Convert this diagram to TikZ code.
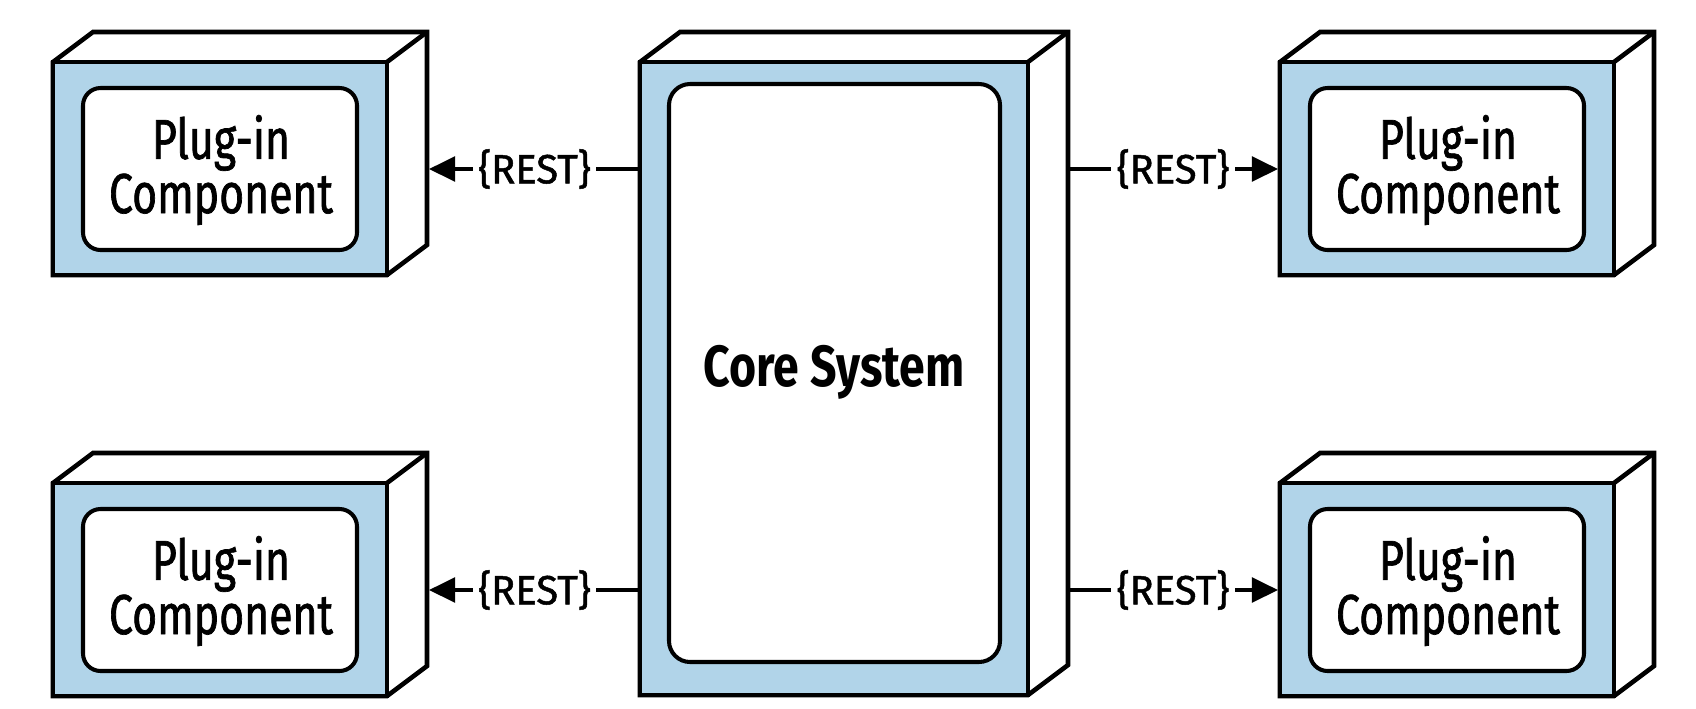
\documentclass[tikz,border=0pt]{standalone}
\usepackage{fontspec}
\setmainfont[FakeStretch=0.8]{Fira Sans}
\newfontfamily\plugfont[FakeStretch=0.76, FakeBold=1.2]{Fira Sans}
\newfontfamily\restfont[FakeStretch=0.98, FakeBold=1.2]{Fira Sans}
\usetikzlibrary{arrows.meta}
\definecolor{faceblue}{RGB}{177,212,233}

\tikzset{
  edge/.style={draw=black, line width=1.3pt},
  frontface/.style={edge, fill=faceblue},
  sideface/.style={edge, fill=white},
  innerbox/.style={draw=black, line width=1.15pt, fill=white, rounded corners=5pt},
  conn/.style={draw=black, line width=1pt, -{Triangle[length=7.4pt,width=7pt]}},
  rest/.style={fill=white, inner sep=1.5pt, font=\restfont\fontsize{11.6}{12}\selectfont},
  plugtext/.style={align=center, inner sep=0pt, font=\plugfont\fontsize{16}{15.4}\selectfont},
  coretext/.style={inner sep=0pt, font=\fontsize{16.5}{18}\selectfont\bfseries},
}

% 3-D box: #1 name, #2/#3 front top-left corner, #4 width, #5 height (px)
\newcommand\threedbox[5]{%
  \path[sideface] (#2,#3) -- ++(40,-30) -- ++(#4,0) -- ++(0,#5) -- ++(-40,30) -- ++(-#4,0) -- cycle;
  \draw[edge] (#2+#4,#3) -- ++(40,-30);
  \coordinate (#1-nw) at (#2,#3);
  \coordinate (#1-se) at (#2+#4,#3+#5);
  \draw[frontface] (#1-nw) rectangle (#1-se);
}

% plug-in component: #1 name, #2/#3 front top-left corner
\newcommand\plugin[3]{%
  \threedbox{#1}{#2}{#3}{334}{213}
  \draw[innerbox] (#2+30,#3+26) rectangle (#2+304,#3+188);
  \node[plugtext] (#1) at (#2+168,#3+108) {Plug-in\\Component};
  \coordinate (#1-e) at (#2+376,#3+107);
  \coordinate (#1-w) at (#2-2,#3+107);
}

\begin{document}
\begin{tikzpicture}[x=0.01cm,y=-0.01cm]
  \useasboundingbox (0,0) rectangle (1696,708);

  % core system
  \threedbox{core}{640}{62}{388}{633}
  \draw[innerbox, rounded corners=6pt] (669,84) rectangle (1000,662);
  \node[coretext] (core) at (834,372) {Core System};
  \coordinate (core-l1) at (640,169);
  \coordinate (core-l2) at (640,590);
  \coordinate (core-r1) at (1068,169);
  \coordinate (core-r2) at (1068,590);

  % plug-in components
  \plugin{tl}{53}{62}
  \plugin{bl}{53}{483}
  \plugin{tr}{1280}{62}
  \plugin{br}{1280}{483}

  % connectors
  \draw[conn] (core-l1) -- node[rest] (rest-tl) {\{REST\}} (tl-e);
  \draw[conn] (core-l2) -- node[rest] (rest-bl) {\{REST\}} (bl-e);
  \draw[conn] (core-r1) -- node[rest] (rest-tr) {\{REST\}} (tr-w);
  \draw[conn] (core-r2) -- node[rest] (rest-br) {\{REST\}} (br-w);
\end{tikzpicture}
\end{document}
